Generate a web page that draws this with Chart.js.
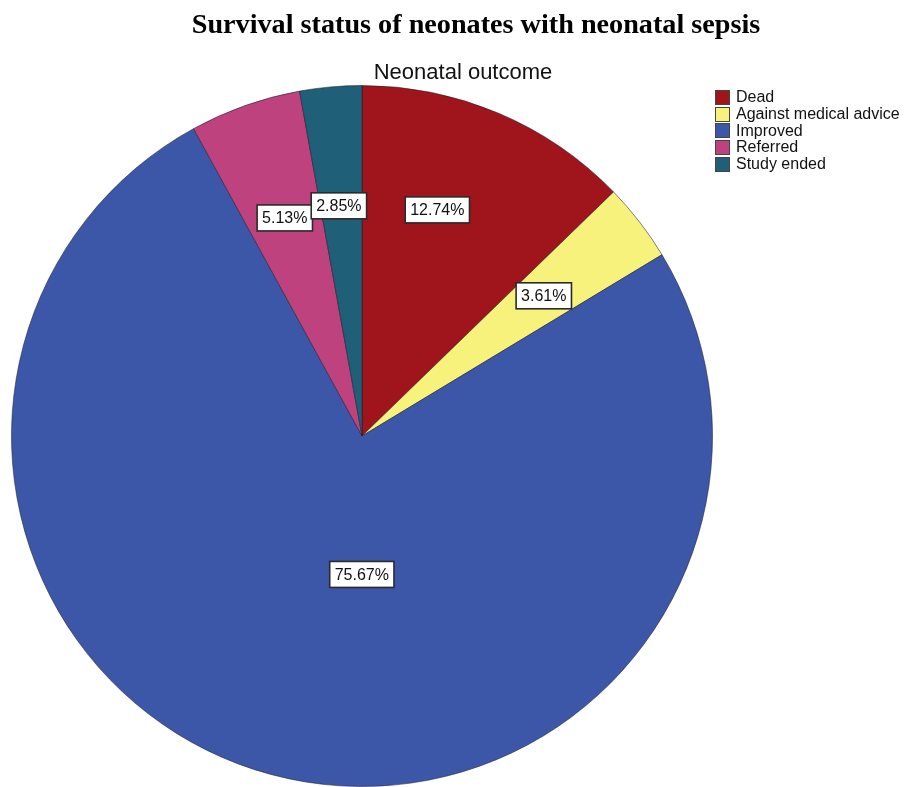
<!DOCTYPE html>
<html>
<head>
<meta charset="utf-8">
<script src="https://cdn.jsdelivr.net/npm/chart.js@4/dist/chart.umd.min.js"></script>
<style>
  body { margin: 0; background: #fff; }
  #wrap { position: relative; width: 907px; height: 787px; overflow: hidden; }
  #outcomeChart { position: absolute; left: 0; top: 0; }
  #title { position: absolute; left: 0; width: 952px; top: 8px; line-height: 28px; text-align: center;
           font: bold 28.2px "Liberation Serif", "Times New Roman", serif; color: #000; }
  #subtitle { position: absolute; left: 0; width: 926px; top: 59px; text-align: center;
              font: 22px "Liberation Sans", Arial, sans-serif; color: #111; }
  #legend { position: absolute; left: 715px; top: 89px; font: 16px "Liberation Sans", Arial, sans-serif; color: #111; }
  #legend div { height: 16.75px; line-height: 16.75px; white-space: nowrap; display: flex; align-items: center; }
  #legend span.sw { display: inline-block; width: 15px; height: 15px; border: 1px solid #444; margin-right: 6px; box-sizing: border-box; }
</style>
</head>
<body>
<div id="wrap">
  <canvas id="outcomeChart" width="907" height="787"></canvas>
  <div id="title">Survival status of neonates with neonatal sepsis</div>
  <div id="subtitle">Neonatal outcome</div>
  <div id="legend"></div>
</div>
<script>
const categories = ['Dead', 'Against medical advice', 'Improved', 'Referred', 'Study ended'];
const percents = [12.74, 3.61, 75.67, 5.13, 2.85];
const sliceColors = ['#a0151b', '#f7f27c', '#3d57a8', '#be427e', '#1f5f78'];

// where each percentage box sits: fraction of radius, and a turn (deg) off the slice middle
const labelSpots = [
  { r: 0.68, turn: -4.5 },
  { r: 0.655, turn: 0 },
  { r: 0.395, turn: -15 },
  { r: 0.66, turn: 0 },
  { r: 0.66, turn: -0.6 }
];

const legendEl = document.getElementById('legend');
categories.forEach((name, i) => {
  const row = document.createElement('div');
  const sw = document.createElement('span');
  sw.className = 'sw';
  sw.style.background = sliceColors[i];
  row.appendChild(sw);
  row.appendChild(document.createTextNode(name));
  legendEl.appendChild(row);
});

const pctLabels = {
  id: 'pctLabels',
  afterDatasetsDraw(chart) {
    const ctx = chart.ctx;
    const meta = chart.getDatasetMeta(0);
    ctx.save();
    ctx.font = '16px "Liberation Sans", Arial, sans-serif';
    ctx.textAlign = 'center';
    ctx.textBaseline = 'middle';
    meta.data.forEach((arc, i) => {
      const p = arc.getProps(['x', 'y', 'startAngle', 'endAngle', 'outerRadius'], true);
      const spot = labelSpots[i];
      const mid = (p.startAngle + p.endAngle) / 2 + spot.turn * Math.PI / 180;
      const lx = p.x + Math.cos(mid) * p.outerRadius * spot.r;
      const ly = p.y + Math.sin(mid) * p.outerRadius * spot.r;
      const text = percents[i].toFixed(2) + '%';
      const w = ctx.measureText(text).width + 10;
      const h = 26;
      ctx.fillStyle = '#fff';
      ctx.fillRect(lx - w / 2, ly - h / 2, w, h);
      ctx.strokeStyle = '#2a2a2a';
      ctx.lineWidth = 1.6;
      ctx.strokeRect(lx - w / 2, ly - h / 2, w, h);
      ctx.fillStyle = '#111';
      ctx.fillText(text, lx, ly + 1);
    });
    ctx.restore();
  }
};

new Chart(document.getElementById('outcomeChart'), {
  type: 'pie',
  data: {
    labels: categories,
    datasets: [{
      data: percents,
      backgroundColor: sliceColors,
      borderColor: 'rgba(30,30,50,0.55)',
      borderWidth: 1
    }]
  },
  options: {
    responsive: false,
    animation: false,
    layout: { padding: { left: 11, right: 194, top: 85, bottom: 0 } },
    plugins: {
      legend: { display: false },
      tooltip: { enabled: false }
    }
  },
  plugins: [pctLabels]
});
</script>
</body>
</html>
